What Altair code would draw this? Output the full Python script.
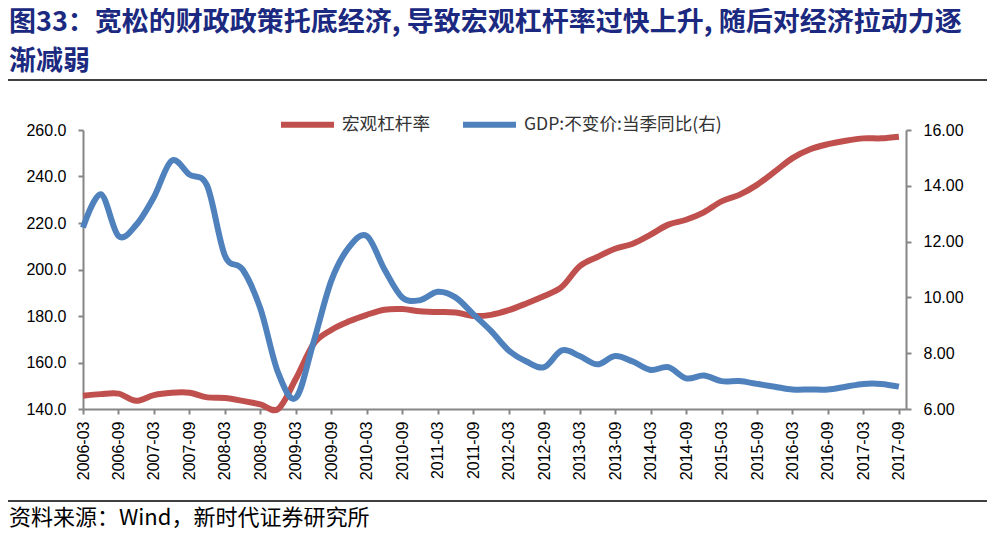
import altair as alt
import pandas as pd

# ---------------- data ----------------
quarters = [f"{y}-{m:02d}" for y in range(2006, 2018) for m in (3, 6, 9, 12)][:47]

leverage = [145.7, 146.4, 146.6, 143.5, 146.0, 147.0, 147.0, 145.0, 144.7, 143.5,
            142.0, 140.0, 153.0, 168.0, 174.0, 177.7, 180.5, 182.7, 183.0, 182.0,
            181.7, 181.5, 180.0, 180.5, 182.5, 185.4, 188.6, 192.6, 201.4, 205.4,
            208.9, 211.1, 215.0, 219.3, 221.4, 224.6, 229.3, 232.1, 236.4, 242.1,
            247.9, 251.7, 253.9, 255.4, 256.4, 256.4, 257.1]

gdp = [12.5, 13.7, 12.2, 12.6, 13.6, 14.9, 14.4, 14.0, 11.5, 11.0,
       9.6, 7.3, 6.4, 8.4, 10.6, 11.8, 12.2, 11.0, 10.0, 9.9,
       10.2, 10.0, 9.4, 8.8, 8.1, 7.7, 7.5, 8.1, 7.9, 7.6,
       7.9, 7.7, 7.4, 7.5, 7.1, 7.2, 7.0, 7.0, 6.9, 6.8,
       6.7, 6.7, 6.7, 6.8, 6.9, 6.9, 6.8]

series_names = ["宏观杠杆率", "GDP:不变价:当季同比(右)"]
series_colors = ["#C0504D", "#4F81BD"]

title_lines = ["图33：宽松的财政政策托底经济, 导致宏观杠杆率过快上升, 随后对经济拉动力逐",
               "渐减弱"]
source_text = "资料来源：Wind，新时代证券研究所"

left_ticks = [140, 160, 180, 200, 220, 240, 260]
right_ticks = [6, 8, 10, 12, 14, 16]
x_tick_idx = list(range(0, 47, 2))

df = pd.DataFrame({
    "idx": list(range(len(quarters))) * 2,
    "quarter": quarters * 2,
    "series": [series_names[0]] * len(leverage) + [series_names[1]] * len(gdp),
    "value": leverage + gdp,
})

# ---------------- chart ----------------
W, H = 823, 279
PAD_L, PAD_T = 75, 122

label_expr = "(2006 + floor(datum.value / 4)) + '-' + ['03','06','09','12'][datum.value % 4]"

x_enc = alt.X(
    "idx:Q",
    scale=alt.Scale(domain=[0, 46.4], nice=False, zero=False),
    axis=alt.Axis(values=x_tick_idx, labelExpr=label_expr, labelAngle=-90,
                  labelPadding=7, title=None, grid=False),
)

color_enc = alt.Color(
    "series:N",
    scale=alt.Scale(domain=series_names, range=series_colors),
    legend=alt.Legend(title=None, orient="none", legendX=195, legendY=-35,
                      direction="horizontal", symbolType="stroke", symbolSize=2809,
                      symbolStrokeWidth=6, labelFont="Noto Sans CJK SC",
                      labelFontSize=17.6, labelColor="#333333", labelOffset=5,
                      labelLimit=400, columnPadding=21, padding=0),
)

base = alt.Chart(df)

red = base.transform_filter(alt.datum.series == series_names[0]).mark_line(
    strokeWidth=6, interpolate="cardinal"
).encode(
    x=x_enc,
    y=alt.Y("value:Q", scale=alt.Scale(domain=[140, 260], nice=False, zero=False),
            axis=alt.Axis(values=left_ticks, format=".1f", orient="left", title=None,
                          grid=False, labelPadding=12)),
    color=color_enc,
)

blue = base.transform_filter(alt.datum.series == series_names[1]).mark_line(
    strokeWidth=6, interpolate="cardinal"
).encode(
    x=x_enc,
    y=alt.Y("value:Q", scale=alt.Scale(domain=[6, 16], nice=False, zero=False),
            axis=alt.Axis(values=right_ticks, format=".2f", orient="right", title=None,
                          grid=False, labelPadding=12)),
    color=color_enc,
)


def text_layer(txt, x, y, size, color, weight, font):
    return alt.Chart(pd.DataFrame({"t": [txt]})).mark_text(
        align="left", baseline="middle", fontSize=size, font=font,
        fontWeight=weight, color=color
    ).encode(x=alt.value(x), y=alt.value(y), text="t:N")


def hrule(y):
    return alt.Chart(pd.DataFrame({"a": [0]})).mark_rule(
        color="#000000", strokeWidth=1.5
    ).encode(x=alt.value(-PAD_L), x2=alt.value(904), y=alt.value(y))


t1 = text_layer(title_lines[0], -PAD_L + 1, 23 - 130, 27, "#1B2A80", "bold", "Noto Sans CJK SC")
t2 = text_layer(title_lines[1], -PAD_L + 1, 62 - 130, 27, "#1B2A80", "bold", "Noto Sans CJK SC")
src = text_layer(source_text, -PAD_L + 1, 518 - 130, 22, "#000000", "normal", "Noto Sans CJK SC")

chart = alt.layer(red, blue, t1, t2, hrule(80 - 130), hrule(501 - 130), src).resolve_scale(
    y="independent"
).properties(
    width=W, height=H,
    autosize=alt.AutoSizeParams(type="none"),
    padding={"left": PAD_L, "top": PAD_T, "right": 81, "bottom": 124},
).configure_axis(
    domainColor="#868686", domainWidth=2, tickColor="#868686", tickWidth=2,
    tickSize=5, labelFont="Liberation Sans", labelFontSize=16, labelColor="#000000",
).configure_view(stroke=None)

chart.save("out.html", embed_options={"renderer": "svg", "actions": False})
